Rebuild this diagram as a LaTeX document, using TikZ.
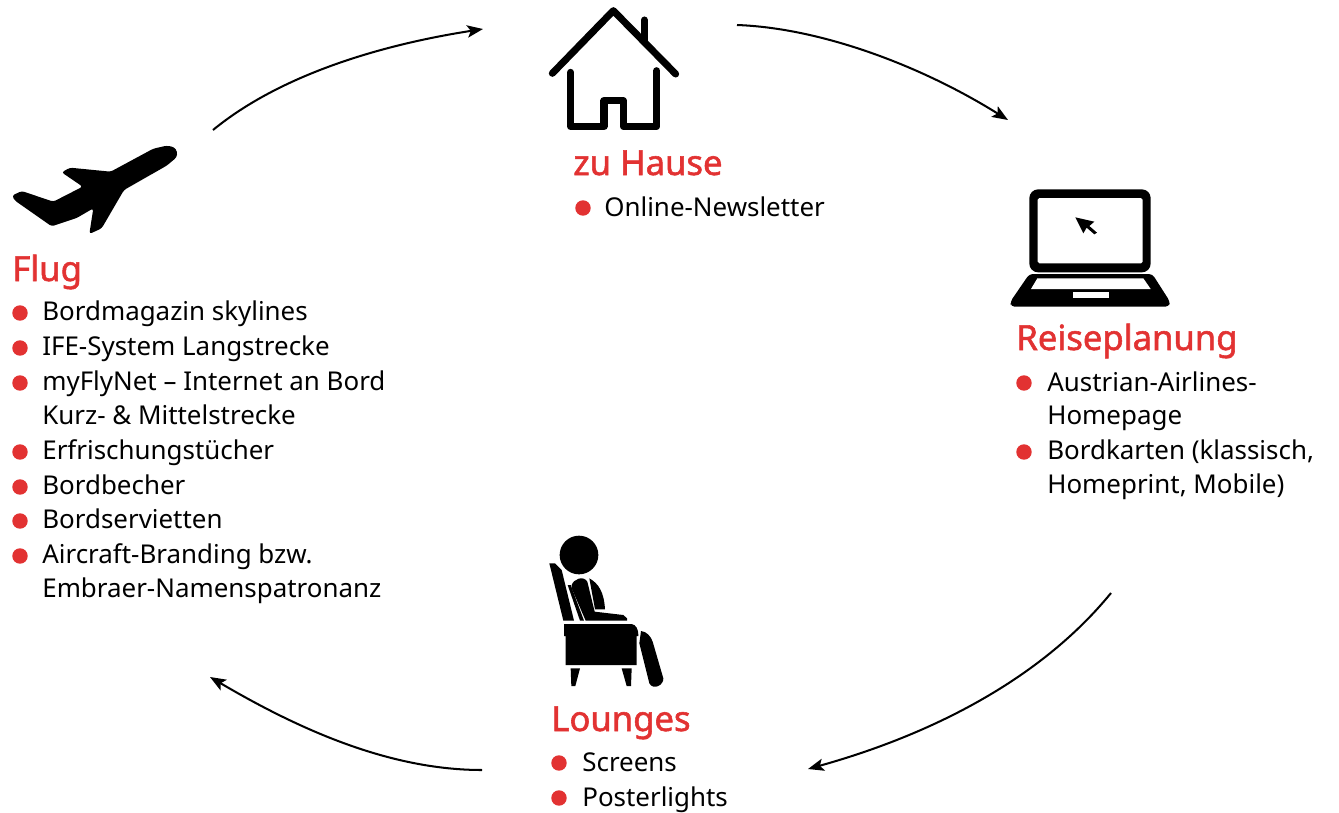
\documentclass[tikz,border=0pt]{standalone}
\usepackage{fontspec}
\setmainfont{Noto Sans}
\newfontfamily\headfont[FakeBold=1.6]{Noto Sans}
\usetikzlibrary{arrows.meta}
\definecolor{aured}{HTML}{E23232}
\tikzset{%
	head/.style   = {anchor=base west, inner sep=0pt, text=aured, font=\headfont\fontsize{19.7}{20}\selectfont}, % Heading
	item/.style   = {anchor=base west, inner sep=0pt, font=\fontsize{14.75}{15}\selectfont}, % List line
	dot/.style    = {circle, fill=aured, inner sep=0pt, minimum size=8.8pt},
	flow/.style   = {line width=1.15pt, -{Stealth[length=9pt,width=7pt,inset=2pt]}},
	stroke/.style = {line width=4pt, line cap=round, line join=round}
}
\begin{document}
\begin{tikzpicture}[x=0.02cm,y=-0.02cm]
	\useasboundingbox (0,0) rectangle (1339,812);

	% Haus
	\begin{scope}[shift={(530,0)},scale=1/3]
		\draw[stroke] (67,220) -- (250,32) -- (437,222);
		\draw[stroke] (343,60) -- (343,125);
		\draw[stroke] (122,217) -- (122,380) -- (222,380) -- (222,302) -- (280,302) -- (280,380) -- (380,380) -- (380,212);
	\end{scope}

	% Flugzeug
	\begin{scope}[shift={(0,130)},scale=1/3]
		\fill[rounded corners=1.5pt] (532,65) -- (522,51) -- (500,47) -- (460,56) -- (332,125) -- (210,113) -- (185,127) -- (248,170) -- (160,215) -- (65,183) -- (36,197) -- (45,212) -- (155,289) -- (230,264) -- (280,235) -- (268,312) -- (305,295) -- (372,180) -- (500,107) -- (530,82) -- cycle;
	\end{scope}

	% Laptop
	\begin{scope}[shift={(1000,180)},scale=1/3]
		\fill[rounded corners=5pt] (88,28) rectangle (452,277);
		\fill[white,rounded corners=1pt] (113,54) rectangle (428,250);
		\fill[rounded corners=2pt] (88,282) -- (457,282) -- (510,365) -- (507,380) -- (33,380) -- (31,365) -- cycle;
		\fill[white] (112,295) -- (430,295) -- (452,327) -- (93,327) -- cycle;
		\fill[white] (218,337) rectangle (326,353);
		\fill (226,112) -- (283,125) -- (268,138) -- (291,158) -- (283,163) -- (260,143) -- (250,160) -- cycle;
	\end{scope}

	% Sessel
	\begin{scope}[shift={(530,530)},scale=1/3]
		\fill (147,75) circle (58);
		\fill (58,100) -- (75,100) -- (95,120) -- (132,272) -- (100,272) -- cycle;
		\fill (113,165) -- (150,272) -- (162,272) -- (122,165) -- cycle;
		\fill (125,165) .. controls (130,148) and (160,135) .. (172,155) -- (194,245) -- (280,255) -- (291,265) -- (291,272) -- (167,272) -- (125,175) -- cycle;
		\fill (178,145) .. controls (205,160) and (222,185) .. (225,238) -- (195,238) -- cycle;
		\fill (102,282) -- (305,282) .. controls (318,285) and (325,295) .. (325,318) -- (320,318) -- (320,405) -- (107,405) -- (107,318) -- (102,318) -- cycle;
		\fill (122,415) -- (150,415) -- (136,468) -- (124,468) -- cycle;
		\fill (275,415) -- (305,415) -- (303,468) -- (290,468) -- cycle;
		\fill (333,303) .. controls (350,305) and (362,318) .. (368,335) -- (400,445) .. controls (402,465) and (370,482) .. (358,460) -- (328,340) -- cycle;
	\end{scope}

	% Texte
	\node[head] (hause) at (573,175) {zu Hause};
	\node[dot]  (hausea) at (583,208) {};
	\node[item] (hauseb) at (604,216) {Online-Newsletter};

	\node[head] (reise) at (1016,350) {Reiseplanung};
	\node[dot]  (reisea) at (1024,383) {};
	\node[item] (reiseb) at (1047,391) {Austrian-Airlines-};
	\node[item] (reisec) at (1047,424) {Homepage};
	\node[dot]  (reised) at (1024,452) {};
	\node[item] (reisee) at (1047,459) {Bordkarten (klassisch,};
	\node[item] (reisef) at (1047,493) {Homeprint, Mobile)};

	\node[head] (lounge) at (551,731) {Lounges};
	\node[dot]  (loungea) at (559,763) {};
	\node[item] (loungeb) at (582,771) {Screens};
	\node[dot]  (loungec) at (559,798) {};
	\node[item] (lounged) at (582,806) {Posterlights};

	\node[head] (flug) at (12,281) {Flug};
	\node[dot]  (fluga) at (20,313) {};
	\node[item] (flugb) at (42,320) {Bordmagazin skylines};
	\node[dot]  (flugc) at (20,348) {};
	\node[item] (flugd) at (42,355) {IFE-System Langstrecke};
	\node[dot]  (fluge) at (20,383) {};
	\node[item] (flugf) at (42,390) {myFlyNet -- Internet an Bord};
	\node[item] (flugg) at (42,424) {Kurz- \& Mittelstrecke};
	\node[dot]  (flugh) at (20,452) {};
	\node[item] (flugi) at (42,459) {Erfrischungstücher};
	\node[dot]  (flugj) at (20,487) {};
	\node[item] (flugk) at (42,494) {Bordbecher};
	\node[dot]  (flugl) at (20,521) {};
	\node[item] (flugm) at (42,528) {Bordservietten};
	\node[dot]  (flugn) at (20,556) {};
	\node[item] (flugo) at (42,563) {Aircraft-Branding bzw.};
	\node[item] (flugp) at (42,597) {Embraer-Namenspatronanz};

	% Pfeile
	\coordinate (flugout) at (213,130);
	\coordinate (hausein) at (483,29);
	\coordinate (hauseout) at (737,25);
	\coordinate (reisein) at (1008,120);
	\coordinate (reiseout) at (1111,593);
	\coordinate (loungein) at (808,769);
	\coordinate (loungeout) at (482,770);
	\coordinate (flugin) at (210,677);
	\draw[flow] (flugout) .. controls (280,75) and (380,45) .. (hausein);
	\draw[flow] (hauseout) .. controls (820,28) and (920,65) .. (reisein);
	\draw[flow] (reiseout) .. controls (1040,680) and (930,735) .. (loungein);
	\draw[flow] (loungeout) .. controls (390,770) and (300,730) .. (flugin);
\end{tikzpicture}
\end{document}
